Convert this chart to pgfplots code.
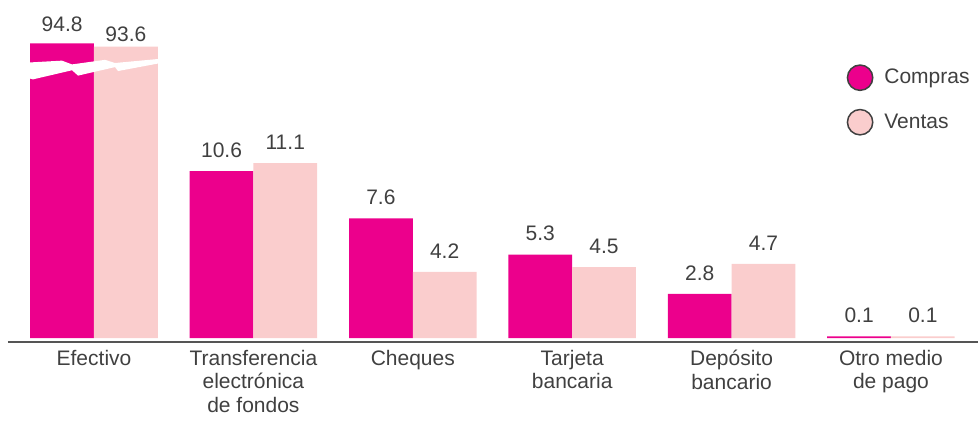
\documentclass[border=0pt]{standalone}
\usepackage{pgfplots}
\pgfplotsset{compat=1.18}
\usepackage{pgfplotstable}
\usepackage{fontspec}
\setmainfont{Liberation Sans}
\definecolor{mag}{HTML}{EC008C}
\definecolor{pinkv}{HTML}{FACDCD}
\definecolor{textgray}{HTML}{404040}
\definecolor{axgray}{HTML}{555555}

\pgfplotstableread{
x y lab dy
0 18.7 94.8 3.5
1 10.6 10.6 4.5
2 7.6 7.6 4.5
3 5.3 5.3 4.5
4 2.8 2.8 4.5
5 0.1 0.1 4.5
}\compras
\pgfplotstableread{
x y lab dy
0 18.5 93.6 -0.5
1 11.1 11.1 4.5
2 4.2 4.2 4.5
3 4.5 4.5 4.5
4 4.7 4.7 4.5
5 0.1 0.1 4.5
}\ventas

\begin{document}
\begin{tikzpicture}
\begin{axis}[
  name=ax,
  scale only axis,
  width=582pt, height=205.2pt,
  xmin=-0.5395, xmax=5.546,
  ymin=-0.254, ymax=21.46,
  ybar=0pt, bar width=0.4,
  axis y line=none,
  axis x line*=bottom,
  x axis line style={line width=1.2pt, color=axgray, -},
  xtick={0,1,2,3,4,5},
  xtick style={draw=none},
  xticklabels={Efectivo,{Transferencia\\electrónica\\de fondos},Cheques,{Tarjeta\\bancaria},{Depósito\\bancario},{Otro medio\\de pago}},
  xticklabel style={align=center, font=\fontsize{12.6}{14}\selectfont, text=textgray, yshift=2.8pt},
  clip=false,
  point meta=explicit symbolic,
  visualization depends on={\thisrow{dy} \as \dyv},
  nodes near coords,
  nodes near coords style={font=\fontsize{12.6}{14}\selectfont, text=textgray, anchor=south, yshift=\dyv pt},
  legend cell align=left,
  legend style={at={(axis cs:4.72,17.4)}, anchor=north west, draw=none, fill=none,
    font=\fontsize{12.6}{14}\selectfont, text=textgray, row sep=10.6pt, column sep=4.5pt, inner sep=0pt},
]
\addplot[fill=mag, draw=none,
  legend image code/.code={\filldraw[fill=mag, draw=textgray, line width=0.9pt] (7.6pt,0pt) circle (7.6pt);}]
  table[x=x, y=y, meta=lab] {\compras};
\addlegendentry{Compras}
\addplot[fill=pinkv, draw=none,
  legend image code/.code={\filldraw[fill=pinkv, draw=textgray, line width=0.9pt] (7.6pt,0pt) circle (7.6pt);}]
  table[x=x, y=y, meta=lab] {\ventas};
\addlegendentry{Ventas}
\fill[white] (axis cs:-0.43,17.48) -- (axis cs:-0.201,17.61) -- (axis cs:-0.138,17.37) -- (axis cs:0.069,17.66)
  -- (axis cs:0.132,17.46) -- (axis cs:0.43,17.74) -- (axis cs:0.43,17.48) -- (axis cs:0.151,16.95)
  -- (axis cs:0.132,17.20) -- (axis cs:-0.100,16.66) -- (axis cs:-0.138,17.00) -- (axis cs:-0.383,16.42)
  -- (axis cs:-0.43,16.55) -- cycle;
\end{axis}
\pgfresetboundingbox
\path[use as bounding box] (ax.south west) ++(-4.8pt,-46.8pt) rectangle (ax.north east);
\end{tikzpicture}
\end{document}
